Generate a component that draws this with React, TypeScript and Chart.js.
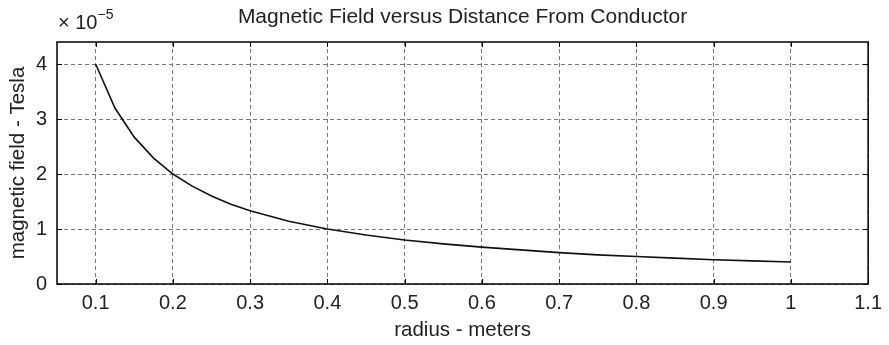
import React, { useEffect, useRef } from "react";
import { Chart, registerables } from "chart.js";

Chart.register(...registerables);

const radius = [0.1, 0.125, 0.15, 0.175, 0.2, 0.225, 0.25, 0.275, 0.3, 0.35, 0.4, 0.45, 0.5, 0.55, 0.6, 0.65, 0.7, 0.75, 0.8, 0.85, 0.9, 0.95, 1.0];
const fieldE5 = [4.0, 3.2, 2.67, 2.29, 2.0, 1.78, 1.6, 1.45, 1.33, 1.14, 1.0, 0.89, 0.8, 0.73, 0.67, 0.62, 0.57, 0.53, 0.5, 0.47, 0.44, 0.42, 0.4];
const xTicks = [0.1, 0.2, 0.3, 0.4, 0.5, 0.6, 0.7, 0.8, 0.9, 1, 1.1];
const yTicks = [0, 1, 2, 3, 4];
const titleText = "Magnetic Field versus Distance From Conductor";
const xLabel = "radius - meters";
const yLabel = "magnetic field - Tesla";
const FONT = "'Liberation Sans', Arial, sans-serif";

const framePlugin = {
  id: "frame",
  afterDraw(chart: any) {
    const { ctx, chartArea: a, scales } = chart;
    ctx.save();
    ctx.strokeStyle = "#000";
    ctx.lineWidth = 1;
    ctx.setLineDash([]);
    const tl = 5;
    ctx.beginPath();
    for (const v of xTicks) {
      const x = Math.round(scales.x.getPixelForValue(v)) + 0.5;
      ctx.moveTo(x, a.bottom);
      ctx.lineTo(x, a.bottom - tl);
      ctx.moveTo(x, a.top);
      ctx.lineTo(x, a.top + tl);
    }
    for (const v of yTicks) {
      const y = Math.round(scales.y.getPixelForValue(v)) + 0.5;
      ctx.moveTo(a.left, y);
      ctx.lineTo(a.left + tl, y);
      ctx.moveTo(a.right, y);
      ctx.lineTo(a.right - tl, y);
    }
    ctx.stroke();
    ctx.lineWidth = 1.5;
    ctx.strokeRect(a.left, a.top, a.right - a.left, a.bottom - a.top);
    // title
    ctx.fillStyle = "#222";
    ctx.textBaseline = "middle";
    ctx.textAlign = "center";
    ctx.font = `21px ${FONT}`;
    ctx.fillText(titleText, (a.left + a.right) / 2, 17);
    // exponent
    ctx.textAlign = "left";
    ctx.font = `20px ${FONT}`;
    ctx.fillText("\u00d7 10", a.left + 1, 23);
    const w = ctx.measureText("\u00d7 10").width;
    ctx.font = `14px ${FONT}`;
    ctx.fillText("\u22125", a.left + 1 + w, 15);
    ctx.restore();
  },
};

export default function App() {
  const ref = useRef<HTMLCanvasElement>(null);
  useEffect(() => {
    if (!ref.current) return;
    const chart = new Chart(ref.current, {
      type: "line",
      data: {
        datasets: [
          {
            data: radius.map((r, i) => ({ x: r, y: fieldE5[i] })),
            borderColor: "#111",
            borderWidth: 1.6,
            pointRadius: 0,
            tension: 0,
            fill: false,
          },
        ],
      },
      options: {
        animation: false,
        responsive: true,
        maintainAspectRatio: false,
        layout: { padding: { top: 42, right: 15, left: 0, bottom: 0 } },
        plugins: { legend: { display: false }, tooltip: { enabled: false }, title: { display: false } },
        scales: {
          x: {
            type: "linear",
            min: 0.05,
            max: 1.1,
            afterBuildTicks: (s: any) => {
              s.ticks = xTicks.map((v) => ({ value: v }));
            },
            afterFit: (s: any) => {
              s.height = 61;
            },
            grid: { color: "#777", lineWidth: 1, drawTicks: false },
            border: { display: false, dash: [4, 3] },
            ticks: {
              color: "#222",
              padding: 7,
              font: { family: FONT, size: 20 },
              maxRotation: 0,
              autoSkip: false,
              callback: (v: any) => String(Math.round(Number(v) * 10) / 10),
            },
            title: { display: true, text: xLabel, color: "#222", font: { family: FONT, size: 20.5 }, padding: { top: 0, bottom: 2 } },
          },
          y: {
            type: "linear",
            min: 0,
            max: 4.4,
            afterBuildTicks: (s: any) => {
              s.ticks = yTicks.map((v) => ({ value: v }));
            },
            afterFit: (s: any) => {
              s.width = 57;
            },
            grid: { color: "#777", lineWidth: 1, drawTicks: false },
            border: { display: false, dash: [4, 3] },
            ticks: {
              color: "#222",
              padding: 10,
              font: { family: FONT, size: 20 },
              autoSkip: false,
              callback: (v: any) => String(v),
            },
            title: { display: true, text: yLabel, color: "#222", font: { family: FONT, size: 20.5 }, padding: { top: 6, bottom: 0 } },
          },
        },
      },
      plugins: [framePlugin],
    } as any);
    return () => chart.destroy();
  }, []);
  return (
    <div style={{ position: "fixed", left: 0, top: 0, width: 889, height: 345, background: "#fff" }}>
      <canvas ref={ref} />
    </div>
  );
}
